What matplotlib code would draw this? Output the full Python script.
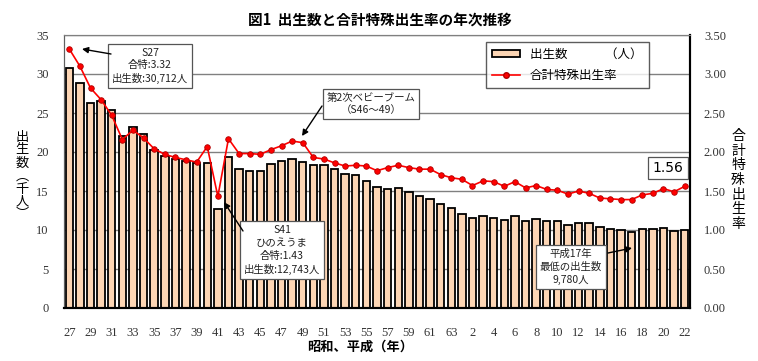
import matplotlib.pyplot as plt
from matplotlib.patches import Patch
from matplotlib.lines import Line2D

plt.rcParams['font.family'] = ['Noto Sans CJK JP', 'DejaVu Sans']

# 昭和27年(1952) ~ 平成22年(2010)
years = list(range(1952, 2011))
# 出生数 (千人)
births = [30.71, 28.9, 26.3, 26.5, 25.4, 22.0, 23.2, 22.3, 20.2, 19.5,
          19.1, 18.9, 18.55, 18.6, 12.74, 19.4, 17.8, 17.6, 17.6, 18.5,
          18.85, 19.15, 18.75, 18.3, 18.3, 17.8, 17.2, 17.0, 16.3, 15.55,
          15.2, 15.35, 14.9, 14.4, 14.0, 13.3, 12.85, 12.1, 11.6, 11.85,
          11.5, 11.3, 11.75, 11.1, 11.35, 11.15, 11.15, 10.7, 10.85, 10.85,
          10.35, 10.17, 10.0, 9.78, 10.1, 10.1, 10.25, 9.9, 10.0]
# 合計特殊出生率
tfr = [3.32, 3.10, 2.82, 2.67, 2.47, 2.16, 2.28, 2.18, 2.04, 1.97,
       1.93, 1.90, 1.87, 2.07, 1.43, 2.17, 1.98, 1.98, 1.97, 2.03,
       2.08, 2.14, 2.12, 1.93, 1.91, 1.86, 1.82, 1.83, 1.82, 1.76,
       1.80, 1.83, 1.80, 1.78, 1.78, 1.71, 1.67, 1.65, 1.57, 1.63,
       1.62, 1.56, 1.62, 1.54, 1.57, 1.52, 1.51, 1.46, 1.50, 1.47,
       1.41, 1.40, 1.39, 1.39, 1.45, 1.47, 1.53, 1.49, 1.56]
tick_labels = ['27', '29', '31', '33', '35', '37', '39', '41', '43', '45',
               '47', '49', '51', '53', '55', '57', '59', '61', '63',
               '2', '4', '6', '8', '10', '12', '14', '16', '18', '20', '22']

W, H = 758, 361
L, R, T, B = 64, 690, 35, 308

fig = plt.figure(figsize=(W / 100, H / 100), dpi=100)
ax = fig.add_axes([L / W, 1 - B / H, (R - L) / W, (B - T) / H])
ax2 = ax.twinx()

def frac(px, py):
    # pixel position in the figure -> axes fraction
    return ((px - L) / (R - L), (B - py) / (B - T))

x = list(range(len(years)))
ax.bar(x, births, width=0.7, color='#FCD5B4', edgecolor='black',
       linewidth=1.3, zorder=2)
ax.set_ylim(0, 35)
ax.set_yticks(range(0, 36, 5))
ax.set_xlim(-0.5, len(years) - 0.5)
ax.set_xticks(x[::2])
ax.set_xticklabels(tick_labels)
ax.yaxis.grid(True, color='#808080', linewidth=1.0, zorder=0)
ax.set_axisbelow(True)

ax2.plot(x, tfr, color='#FF0000', linewidth=1.2, marker='o', markersize=4,
         markerfacecolor='#FF0000', markeredgecolor='#B00000',
         markeredgewidth=0.6, zorder=3)
ax2.set_ylim(0, 3.5)
ax2.set_yticks([i * 0.5 for i in range(8)])
ax2.set_yticklabels(['%.2f' % (i * 0.5) for i in range(8)])

for a in (ax, ax2):
    a.tick_params(length=0, labelsize=9)
    for lab in a.get_xticklabels() + a.get_yticklabels():
        lab.set_fontfamily('Liberation Serif')
        lab.set_color('#333333')
ax.tick_params(axis='x', pad=14)
ax.tick_params(axis='y', pad=11)
ax2.tick_params(axis='y', pad=10)
for a in (ax, ax2):
    a.spines['top'].set_color('#808080')
    a.spines['left'].set_color('#606060')
    a.spines['bottom'].set_color('black')
    a.spines['bottom'].set_linewidth(1.5)
    a.spines['right'].set_color('black')
    a.spines['right'].set_linewidth(1.5)

fig.text(380 / W, 1 - 20 / H, '図1  出生数と合計特殊出生率の年次推移',
         ha='center', va='center', fontsize=10.5, fontweight='bold')
fig.text(22 / W, 1 - 176 / H, '出\n生\n数\n︵\n千\n人\n︶', ha='center',
         va='center', fontsize=9.5, linespacing=1.0)
fig.text(738 / W, 1 - 180 / H, '合\n計\n特\n殊\n出\n生\n率', ha='center',
         va='center', fontsize=10, linespacing=1.05)
fig.text(360 / W, 1 - 347 / H, '昭和、平成（年）', ha='center',
         va='center', fontsize=9.5, fontweight='bold')

handles = [Patch(facecolor='#FCD5B4', edgecolor='black', linewidth=1.3),
           Line2D([], [], color='#FF0000', linewidth=1.2, marker='o',
                  markersize=4, markerfacecolor='#FF0000',
                  markeredgecolor='#B00000')]
leg = ax2.legend(handles, ['出生数　　　（人）', '合計特殊出生率'],
                 loc='upper left', bbox_to_anchor=frac(486, 42),
                 fontsize=9, frameon=True, fancybox=False, borderpad=0.5,
                 handlelength=2.2, handleheight=0.5, labelspacing=0.6,
                 borderaxespad=0)
leg.get_frame().set_edgecolor('#333333')
leg.get_frame().set_linewidth(1.0)

box = dict(boxstyle='square,pad=0.35', fc='white', ec='#555555', lw=0.9)
notes = [
    ('S27\n合特:3.32\n出生数:30,712人', (150, 66), 7.5),
    ('第2次ベビーブーム\n（S46～49）', (371, 104), 7.5),
    ('S41\nひのえうま\n合特:1.43\n出生数:12,743人', (282, 250), 7.5),
    ('平成17年\n最低の出生数\n9,780人', (571, 267), 7.5),
]
for txt, (px, py), fs in notes:
    ax2.text(*frac(px, py), txt, transform=ax2.transAxes, ha='center',
             va='center', fontsize=fs, linespacing=1.35, bbox=box,
             zorder=5, color='#222222')
ax2.text(*frac(668, 168), '1.56', transform=ax2.transAxes, ha='center',
         va='center', fontsize=10, family='DejaVu Sans', zorder=5,
         bbox=dict(boxstyle='square,pad=0.3', fc='white', ec='#555555',
                   lw=0.9))

arrows = [((111, 54), (82, 49)), ((322, 106), (302, 136)),
          ((243, 231), (224, 202)), ((608, 253), (632, 248))]
for tail, head in arrows:
    ax2.annotate('', xy=frac(*head), xycoords='axes fraction',
                 xytext=frac(*tail), textcoords='axes fraction',
                 arrowprops=dict(arrowstyle='-|>', color='black', lw=1.0,
                                 mutation_scale=9, shrinkA=0, shrinkB=0),
                 zorder=6)

fig.savefig('out.png', dpi=100)
